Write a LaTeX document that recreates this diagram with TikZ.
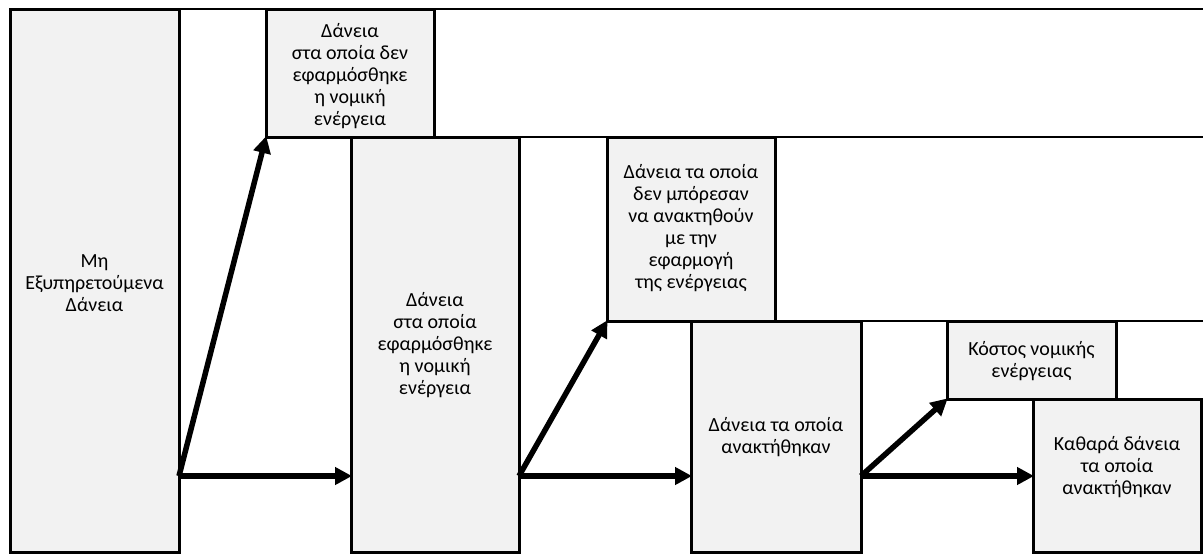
\documentclass[tikz,border=0pt]{standalone}
\usepackage{fontspec}
\setmainfont{Carlito}
\usetikzlibrary{arrows.meta}
\begin{document}
\begin{tikzpicture}[x=1pt,y=-1pt,
  box/.style={draw=black, line width=3pt, fill=boxgray, outer sep=0pt, inner sep=0pt, anchor=north west},
  txt/.style={align=center, font=\fontsize{20}{22}\selectfont, inner sep=0pt},
  guide/.style={draw=black, line width=2.3pt},
  arr/.style={draw=black, line width=5.5pt, -{Triangle[length=17pt,width=17pt]}, shorten >=-1pt}]
\definecolor{boxgray}{HTML}{F2F2F2}
\useasboundingbox (0,0) rectangle (1203,555);
% reference points at the right edge
\coordinate (e1) at (1203,9);
\coordinate (e2) at (1203,137);
\coordinate (e3) at (1203,321);
\coordinate (ay) at (0,476);
% boxes
\node[box, minimum width=169pt, minimum height=543pt] (b1) at (10,9) {};
\node[box, minimum width=168pt, minimum height=128pt] (b2) at (266,9) {};
\node[box, minimum width=168pt, minimum height=415pt] (b3) at (351,137) {};
\node[box, minimum width=168pt, minimum height=184pt] (b4) at (607,137) {};
\node[box, minimum width=170pt, minimum height=231pt] (b5) at (691,321) {};
\node[box, minimum width=169pt, minimum height=78pt] (b6) at (947,321) {};
\node[box, minimum width=168pt, minimum height=153pt] (b7) at (1033,399) {};
% guide lines
\draw[guide] (b1.north east) -- (e1);
\draw[guide] (b2.south east) -- (e2);
\draw[guide] (b4.south east) -- (e3);
% redraw boxes on top of lines
\node[box, minimum width=168pt, minimum height=128pt] at (266,9) {};
\node[box, minimum width=168pt, minimum height=415pt] at (351,137) {};
\node[box, minimum width=168pt, minimum height=184pt] at (607,137) {};
\node[box, minimum width=170pt, minimum height=231pt] at (691,321) {};
\node[box, minimum width=169pt, minimum height=78pt] at (947,321) {};
% texts
\node[txt] (t1) at ([yshift=-3pt]b1.center) {Μη\\Εξυπηρετούμενα\\Δάνεια};
\node[txt] (t2) at ([yshift=-3pt]b2.center) {Δάνεια\\στα οποία δεν\\εφαρμόσθηκε\\η νομική\\ενέργεια};
\node[txt] (t3) at ([yshift=-1pt]b3.center) {Δάνεια\\στα οποία\\εφαρμόσθηκε\\η νομική\\ενέργεια};
\node[txt] (t4) at ([yshift=1pt]b4.center) {Δάνεια τα οποία\\δεν μπόρεσαν\\να ανακτηθούν\\με την\\εφαρμογή\\της ενέργειας};
\node[txt] (t5) at ([yshift=-1pt]b5.center) {Δάνεια τα οποία\\ανακτήθηκαν};
\node[txt] (t6) at ([yshift=-1pt]b6.center) {Κόστος νομικής\\ενέργειας};
\node[txt] (t7) at ([yshift=8pt]b7.center) {Καθαρά δάνεια\\τα οποία\\ανακτήθηκαν};
% arrows
\draw[arr] (b1.east |- ay) -- (b3.west |- ay);
\draw[arr] (b1.east |- ay) -- (b2.south west);
\draw[arr] (b3.east |- ay) -- (b5.west |- ay);
\draw[arr] (b3.east |- ay) -- (b4.south west);
\draw[arr] (b5.east |- ay) -- (b7.west |- ay);
\draw[arr] (b5.east |- ay) -- (b6.south west);
\end{tikzpicture}
\end{document}
